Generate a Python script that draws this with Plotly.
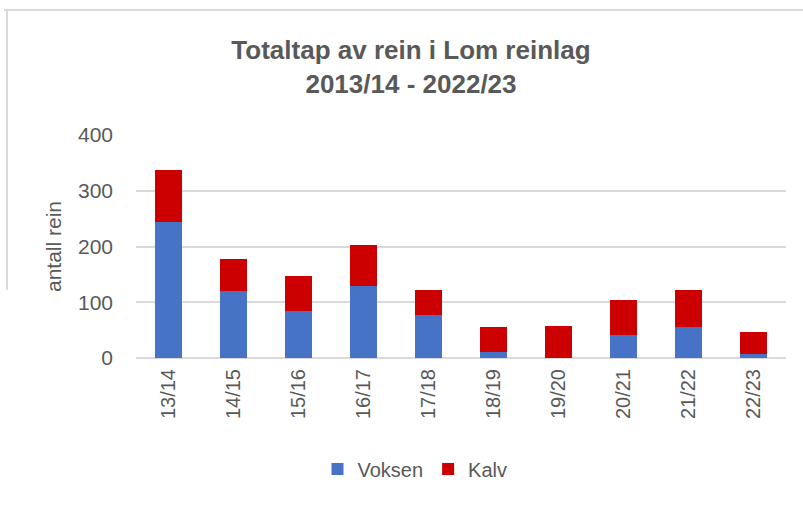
import plotly.graph_objects as go

categories = ["13/14", "14/15", "15/16", "16/17", "17/18", "18/19", "19/20", "20/21", "21/22", "22/23"]
voksen = [244, 120, 85, 130, 78, 10, 0, 42, 55, 8]
kalv = [94, 58, 62, 73, 44, 45, 58, 62, 67, 39]
y_ticks = [0, 100, 200, 300, 400]

FONT = "Liberation Sans"
GREY = "#595959"

L, R, T, B = 136, 17, 134.5, 146.5
W, H = 803, 505
PW, PH = W - L - R, H - T - B


def px_x(x):
    return (x - L) / PW


def px_y(y):
    return (H - B - y) / PH


fig = go.Figure()
fig.add_trace(go.Bar(name="Voksen", x=categories, y=voksen, marker=dict(color="#4673C6", line=dict(width=0))))
fig.add_trace(go.Bar(name="Kalv", x=categories, y=kalv, marker=dict(color="#CC0000", line=dict(width=0))))

fig.update_layout(
    width=W, height=H,
    barmode="stack", bargap=0.58,
    paper_bgcolor="white", plot_bgcolor="white",
    margin=dict(l=L, r=R, t=T, b=B, autoexpand=False),
    font=dict(family=FONT, color=GREY, size=20),
    title=dict(text="<b>Totaltap av rein i Lom reinlag<br>2013/14 - 2022/23</b>",
               x=411 / W, xanchor="center", xref="container", yref="container",
               y=1 - 59 / H, yanchor="top",
               font=dict(family=FONT, size=26, color=GREY)),
    xaxis=dict(tickangle=-90, showgrid=False, showline=False, ticks="", automargin=False,
               tickfont=dict(size=20, color=GREY), ticklabelstandoff=6),
    yaxis=dict(range=[0, 400], tickvals=y_ticks, showgrid=True, gridcolor="#d9d9d9", gridwidth=1.5,
               zeroline=True, zerolinecolor="#d9d9d9", zerolinewidth=1.5, automargin=False,
               ticks="", tickfont=dict(size=21, color=GREY), ticklabelstandoff=22,
               title=dict(text="antall rein", font=dict(size=21, color=GREY), standoff=10)),
    legend=dict(orientation="h", x=px_x(415), xanchor="center", y=px_y(470), yanchor="middle",
                font=dict(size=20, color=GREY), traceorder="normal", itemwidth=30),
    shapes=[
        dict(type="line", xref="paper", yref="paper", x0=px_x(4), x1=px_x(803), y0=px_y(9), y1=px_y(9),
             line=dict(color="#d9d9d9", width=2)),
        dict(type="line", xref="paper", yref="paper", x0=px_x(7), x1=px_x(7), y0=px_y(9), y1=px_y(290),
             line=dict(color="#d9d9d9", width=2)),
    ],
)

fig.write_html("out.html", config={"displayModeBar": False},
               post_script="document.body.style.margin='0';")
